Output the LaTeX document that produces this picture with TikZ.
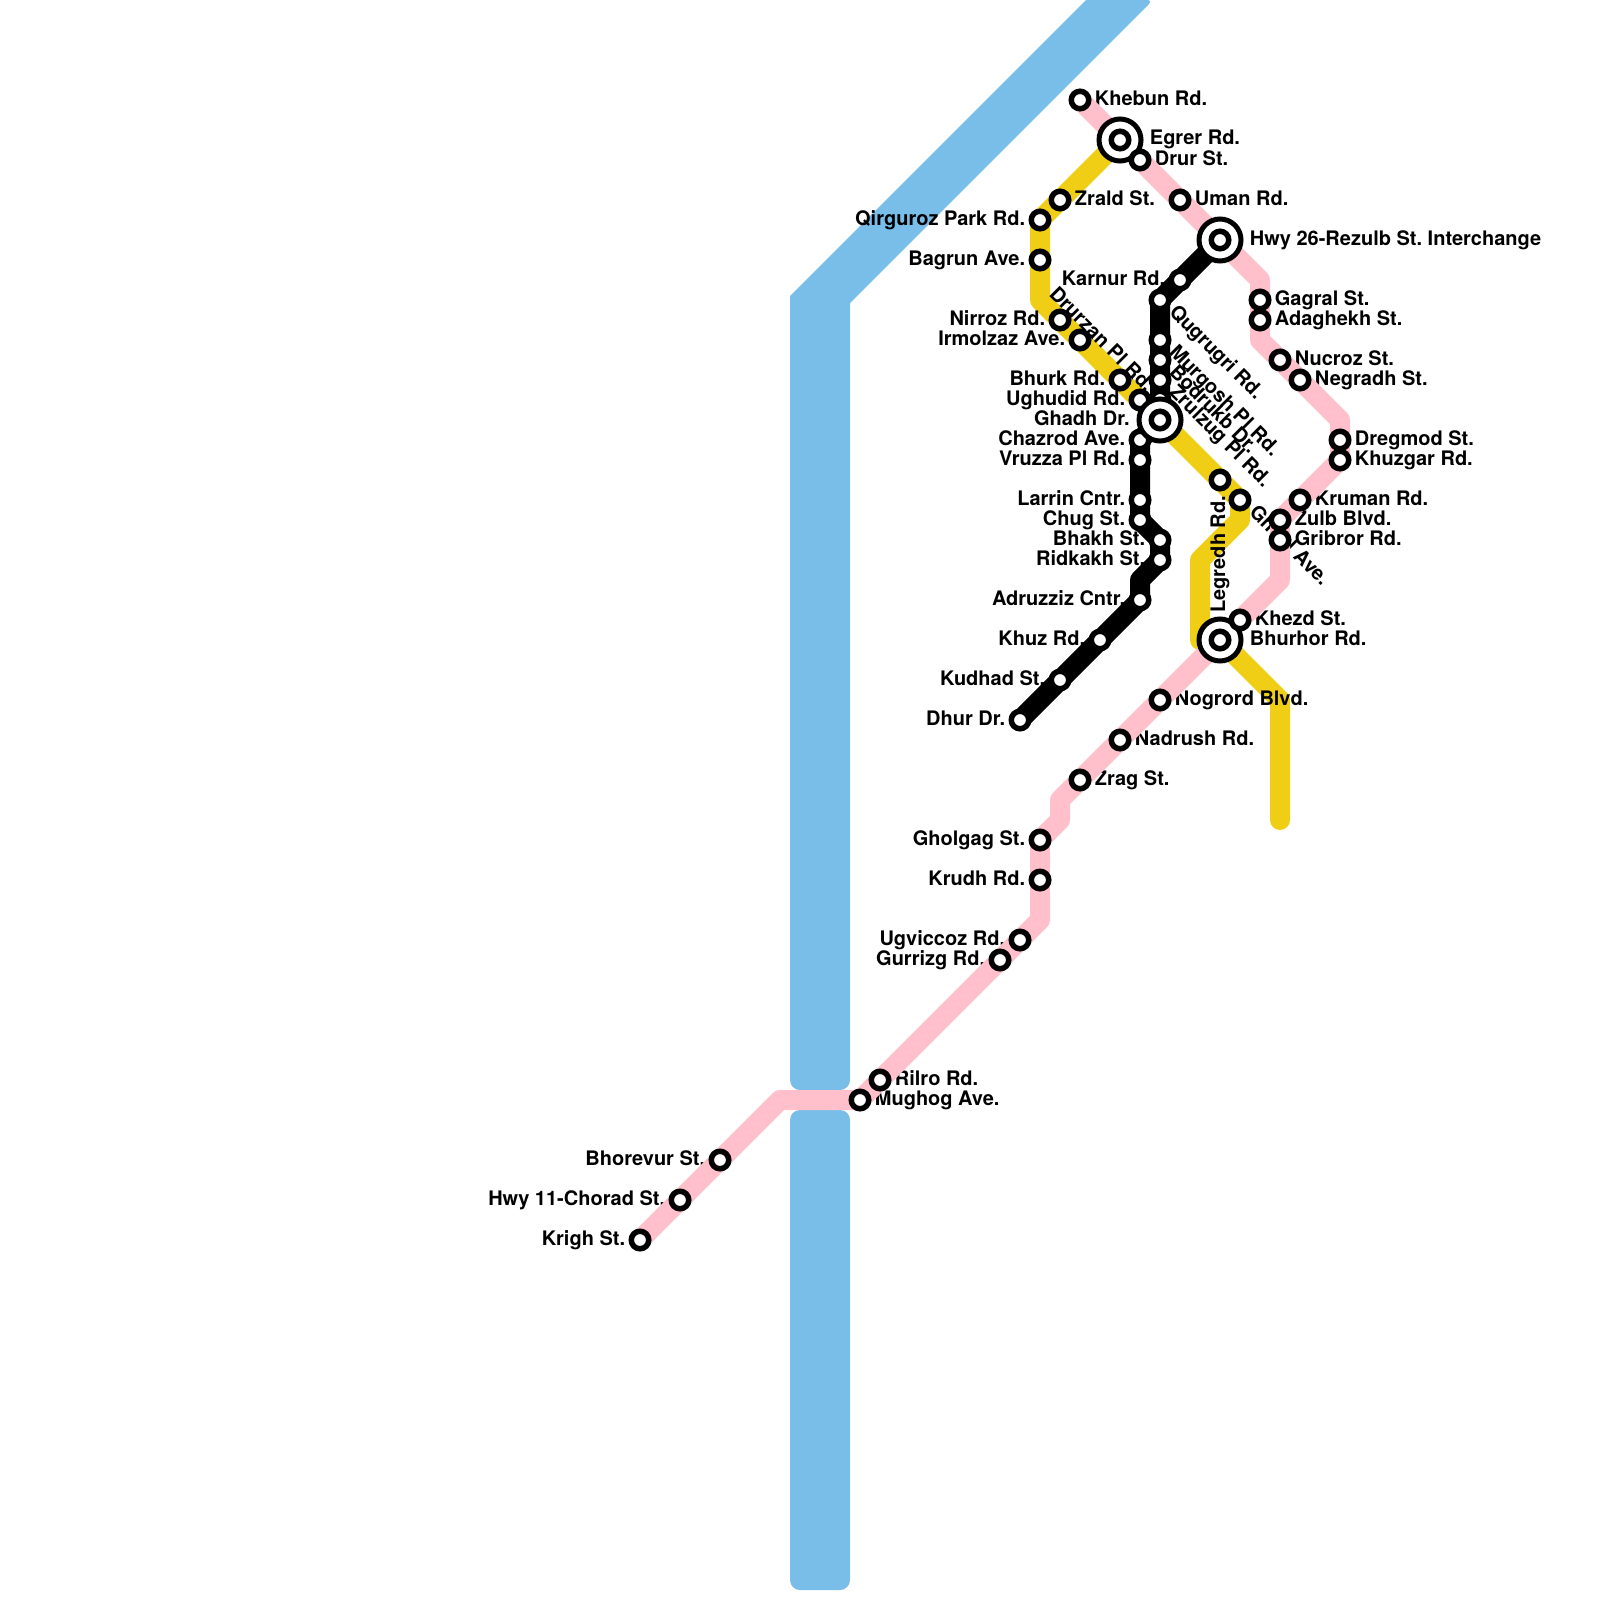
\documentclass[tikz,border=0pt]{standalone}
\usepackage{fontspec}
\setmainfont{TeX Gyre Heros}
\frenchspacing
\definecolor{riverblue}{HTML}{79BDE9}
\definecolor{linepink}{HTML}{FFC0CB}
\definecolor{lineyellow}{HTML}{F0CE15}
\pgfdeclarelayer{river}
\pgfdeclarelayer{yellowline}
\pgfdeclarelayer{names}
\pgfdeclarelayer{toplines}
\pgfsetlayers{river,yellowline,names,toplines,main}
\tikzset{
  stn/.style={circle,draw=black,fill=white,line width=2.75pt,minimum size=8.75pt,inner sep=0pt},
  hub/.style={circle,draw=black,fill=white,line width=2.5pt,minimum size=21pt,inner sep=0pt},
  route/.style={line width=10pt,line cap=round,line join=round},
  lblr/.style={font=\fontsize{10}{12}\selectfont\bfseries,anchor=base west,inner sep=0pt},
  lbll/.style={font=\fontsize{10}{12}\selectfont\bfseries,anchor=base east,inner sep=0pt},
  lbld/.style={lblr,rotate=-45},
}
\begin{document}
\begin{tikzpicture}[x=0.5pt,y=-0.5pt]
  \useasboundingbox (0,0) rectangle (1600,1600);
  % Stations with the name on the right
  \foreach \nm/\x/\y/\txt in {khebun/1080/100/Khebun Rd.,zrald/1060/200/Zrald St.,uman/1180/200/Uman Rd.,
    gagral/1260/300/Gagral St.,adaghekh/1260/320/Adaghekh St.,nucroz/1280/360/Nucroz St.,negradh/1300/380/Negradh St.,
    dregmod/1340/440/Dregmod St.,khuzgar/1340/460/Khuzgar Rd.,kruman/1300/500/Kruman Rd.,zulb/1280/520/Zulb Blvd.,
    gribror/1280/540/Gribror Rd.,nogrord/1160/700/Nogrord Blvd.,nadrush/1120/740/Nadrush Rd.,zrag/1080/780/Zrag St.,
    rilro/880/1080/Rilro Rd.,mughog/860/1100/Mughog Ave.}{
    \node[stn] (\nm) at (\x,\y) {};
    \begin{pgfonlayer}{names}
      \node[lblr] (\nm-t) at (\x+14.5,\y+5) {\txt};
    \end{pgfonlayer}
  }
  % Stations with the name on the left
  \foreach \nm/\x/\y/\txt in {qirguroz/1040/220/Qirguroz Park Rd.,bagrun/1040/260/Bagrun Ave.,karnur/1180/280/Karnur Rd.,
    nirroz/1060/320/Nirroz Rd.,irmolzaz/1080/340/Irmolzaz Ave.,bhurk/1120/380/Bhurk Rd.,ughudid/1140/400/Ughudid Rd.,
    chazrod/1140/440/Chazrod Ave.,vruzza/1140/460/Vruzza Pl Rd.,larrin/1140/500/Larrin Cntr.,chug/1140/520/Chug St.,
    bhakh/1160/540/Bhakh St.,ridkakh/1160/560/Ridkakh St.,adruzziz/1140/600/Adruzziz Cntr.,khuz/1100/640/Khuz Rd.,
    kudhad/1060/680/Kudhad St.,dhur/1020/720/Dhur Dr.,gholgag/1040/840/Gholgag St.,krudh/1040/880/Krudh Rd.,
    ugviccoz/1020/940/Ugviccoz Rd.,gurrizg/1000/960/Gurrizg Rd.,bhorevur/720/1160/Bhorevur St.,
    hwyeleven/680/1200/Hwy 11-Chorad St.,krigh/640/1240/Krigh St.}{
    \node[stn] (\nm) at (\x,\y) {};
    \begin{pgfonlayer}{names}
      \node[lbll] (\nm-t) at (\x-14.5,\y+5) {\txt};
    \end{pgfonlayer}
  }
  % Stations with a slanted name
  \foreach \nm/\x/\y/\txt in {qugrugri/1160/300/Qugrugri Rd.,murgosh/1160/340/Murgosh Pl Rd.,bodrukb/1160/360/Bodrukb Dr.,
    zrulzug/1160/380/Zrulzug Pl Rd.,ghual/1240/500/Ghual Ave.}{
    \node[stn] (\nm) at (\x,\y) {};
    \begin{pgfonlayer}{names}
      \node[lbld] (\nm-t) at (\x+8,\y+13) {\txt};
    \end{pgfonlayer}
  }
  \node[stn] (legredh) at (1220,480) {};
  \node[stn] (ghadhtop) at (1160,400) {};
  % Interchanges
  \foreach \nm/\x/\y in {egrer/1120/140,hwytwosix/1220/240,ghadh/1160/420,bhurhor/1220/640}{
    \node[hub] (\nm) at (\x,\y) {};
    \node[stn] (\nm-c) at (\nm) {};
  }
  \node[stn] (drur) at (1140,160) {};
  \node[stn] (khezd) at (1240,620) {};
  \begin{pgfonlayer}{names}
    \node[lblr] (egrer-t) at (1149.5,145) {Egrer Rd.};
    \node[lblr] (hwytwosix-t) at (1249.5,245) {Hwy 26-Rezulb St. Interchange};
    \node[lblr] (bhurhor-t) at (1249.5,645) {Bhurhor Rd.};
    \node[lbll] (ghadh-t) at (1130,425) {Ghadh Dr.};
    \node[lblr] (drur-t) at (1154.5,165) {Drur St.};
    \node[lblr] (khezd-t) at (1254.5,625) {Khezd St.};
    \node[lbld] (drurzan-t) at (1048,295) {Drurzan Pl Rd.};
    \node[lblr,rotate=90] (legredh-t) at (1225,613) {Legredh Rd.};
  \end{pgfonlayer}
  % Bends of the lines
  \coordinate (pka) at (1260,280);
  \coordinate (pkb) at (1260,340);
  \coordinate (pkc) at (1340,420);
  \coordinate (pkd) at (1280,520);
  \coordinate (pke) at (1280,580);
  \coordinate (pkf) at (1060,800);
  \coordinate (pkg) at (1060,820);
  \coordinate (pkh) at (1040,920);
  \coordinate (pki) at (780,1100);
  \coordinate (yla) at (1040,300);
  \coordinate (ylb) at (1240,520);
  \coordinate (ylc) at (1200,560);
  \coordinate (yld) at (1200,640);
  \coordinate (yle) at (1280,700);
  \coordinate (ylf) at (1280,820);
  \coordinate (bka) at (1140,580);
  % River
  \begin{pgfonlayer}{river}
    \fill[riverblue] (820,1090) [rounded corners=5pt] -- (790,1090) [sharp corners] -- (790,296) -- (1086,0)
      [rounded corners=3pt] -- (1153,0) [sharp corners] -- (850,303) [rounded corners=5pt] -- (850,1090) -- cycle;
    \fill[riverblue] (820,1110) [rounded corners=5pt] -- (850,1110) -- (850,1590) -- (790,1590) -- (790,1110) -- cycle;
  \end{pgfonlayer}
  % Lines
  \begin{pgfonlayer}{yellowline}
    \draw[route,lineyellow] (egrer.center) -- (qirguroz.center) -- (yla) -- (ghual.center) -- (ylb) -- (ylc) -- (yld)
      -- (bhurhor.center) -- (yle) -- (ylf);
  \end{pgfonlayer}
  \begin{pgfonlayer}{toplines}
    \draw[route,linepink] (khebun.center) -- (pka) -- (pkb) -- (pkc) -- (khuzgar.center) -- (pkd) -- (pke) -- (pkf) -- (pkg)
      -- (gholgag.center) -- (pkh) -- (mughog.center) -- (pki) -- (krigh.center);
    \draw[route,black] (hwytwosix.center) -- (qugrugri.center) -- (ghadh.center) -- (chazrod.center) -- (chug.center)
      -- (bhakh.center) -- (ridkakh.center) -- (bka) -- (adruzziz.center) -- (dhur.center);
  \end{pgfonlayer}
\end{tikzpicture}
\end{document}
